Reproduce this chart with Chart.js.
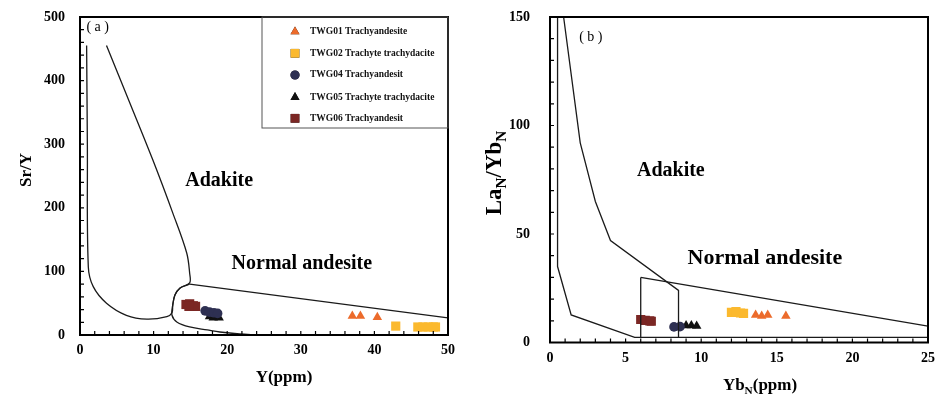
<!DOCTYPE html>
<html>
<head>
<meta charset="utf-8">
<script src="https://cdn.jsdelivr.net/npm/chart.js@4.4.1/dist/chart.umd.min.js"></script>
<style>
  body { margin: 0; background: #fff; }
  #wrap { position: relative; width: 937px; height: 396px; }
  .box { position: absolute; top: 0; height: 396px; }
</style>
</head>
<body>
<div id="wrap">
  <div class="box" style="left:0;width:468px"><canvas id="chartA"></canvas></div>
  <div class="box" style="left:468px;width:469px"><canvas id="chartB"></canvas></div>
</div>
<script>
const serif = '"Liberation Serif", "Times New Roman", serif';

// series (same order in both panels)
const seriesNames = ["TWG01 Trachyandesite", "TWG02 Trachyte trachydacite", "TWG04 Trachyandesit",
                     "TWG05 Trachyte trachydacite", "TWG06 Trachyandesit"];
const seriesColors = ["#EC6B2B", "#FBB92E", "#2E3052", "#111111", "#7B2724"];
const seriesShapes = ["triangle", "rect", "circle", "triangle", "rect"];

// (a) Sr/Y vs Y(ppm)
const aTWG01 = [[37.0, 30], [38.1, 30], [40.4, 28]];
const aTWG02 = [[42.9, 14], [45.9, 12.6], [46.6, 12.6], [47.3, 12.6], [48.0, 12.6], [48.3, 12.6]];
const aTWG04 = [[17.0, 38], [17.6, 36], [18.2, 35], [18.7, 34]];
const aTWG05 = [[17.6, 29], [18.1, 27], [18.6, 30], [18.9, 27]];
const aTWG06 = [[14.4, 48], [14.9, 49], [15.4, 46], [15.7, 45], [14.8, 45]];
const aAdakite = [[0.9, 455], [1.0, 300], [1.13, 107], [1.8, 76], [3.6, 50], [6.3, 31], [9.1, 25],
                  [11.8, 29], [12.5, 35], [12.6, 47], [12.9, 63], [13.6, 74], [14.9, 82], [14.9, 97],
                  [14.5, 129], [12.6, 192], [9.9, 275], [6.8, 364], [3.6, 455]];
const aAndesiteTop = [[14.9, 80], [50, 27]];
const aAndesiteLow = [[14.9, 80], [13.6, 74], [12.9, 63], [12.6, 47], [12.5, 31], [13.2, 20],
                      [14.9, 12.6], [17.3, 7.9], [19.0, 4.7], [21.7, 1.6], [24, 0.3]];
const aTicksX = [0, 10, 20, 30, 40, 50];
const aTicksY = [0, 100, 200, 300, 400, 500];

// (b) LaN/YbN vs YbN(ppm)
const bTWG01 = [[13.6, 12.7], [14.0, 12.2], [14.4, 12.7], [15.6, 12.2]];
const bTWG02 = [[12.0, 13.9], [12.3, 14.2], [12.6, 13.6], [12.8, 13.4]];
const bTWG04 = [[8.2, 7.2], [8.6, 7.3]];
const bTWG05 = [[9.0, 7.8], [9.35, 7.8], [9.7, 7.6]];
const bTWG06 = [[6.0, 10.6], [6.3, 10.2], [6.6, 10.0], [6.7, 9.8]];
const bAdakiteLeft = [[0.5, 150], [0.5, 35], [1.4, 12.7], [5.6, 2.4], [25, 2.4]];
const bAdakiteRight = [[0.9, 150], [2.0, 92], [3.0, 65], [4.0, 47], [8.5, 24], [8.5, 2.4]];
const bBoxLeft = [[6.0, 2.4], [6.0, 30]];
const bAndesiteTop = [[6.0, 30], [25, 7.5]];
const bTicksX = [0, 5, 10, 15, 20, 25];
const bTicksY = [0, 50, 100, 150];

const pts = arr => arr.map(p => ({ x: p[0], y: p[1] }));

function markerSets(groups) {
  return groups.map((g, i) => ({
    label: seriesNames[i],
    data: pts(g),
    pointStyle: seriesShapes[i],
    pointRadius: seriesShapes[i] === "rect" ? 6.5 : (seriesShapes[i] === "circle" ? 4.8 : 5.5),
    backgroundColor: seriesColors[i],
    borderColor: seriesColors[i],
    borderWidth: 0,
    showLine: false
  }));
}

function lineSet(arr, tension) {
  return {
    label: "", field: true, data: pts(arr), showLine: true, fill: false,
    borderColor: "#1a1a1a", borderWidth: 1.3, pointRadius: 0, tension: tension
  };
}

function drawRich(ctx, parts, x, y, size, angle) {
  ctx.save();
  ctx.translate(x, y);
  ctx.rotate(angle);
  ctx.textBaseline = "middle";
  ctx.textAlign = "left";
  ctx.fillStyle = "#000";
  let w = 0;
  parts.forEach(p => {
    ctx.font = "bold " + (p.sub ? size * 0.66 : size) + "px " + serif;
    p.w = ctx.measureText(p.t).width;
    w += p.w;
  });
  let cx = -w / 2;
  parts.forEach(p => {
    ctx.font = "bold " + (p.sub ? size * 0.66 : size) + "px " + serif;
    ctx.fillText(p.t, cx, p.sub ? size * 0.3 : 0);
    cx += p.w;
  });
  ctx.restore();
}

function framePlugin(cfg) {
  return {
    id: "frame",
    afterDraw(chart) {
      const ctx = chart.ctx, a = chart.chartArea;
      const xs = chart.scales.x, ys = chart.scales.y;
      ctx.save();
      ctx.strokeStyle = "#000";
      ctx.lineWidth = 2;
      ctx.strokeRect(a.left, a.top, a.right - a.left, a.bottom - a.top);
      ctx.lineWidth = 1.2;
      ctx.beginPath();
      for (let v = xs.min; v <= xs.max + 1e-9; v += cfg.minorX) {
        const px = xs.getPixelForValue(v);
        ctx.moveTo(px, a.bottom);
        ctx.lineTo(px, a.bottom - 4);
      }
      for (let v = ys.min; v <= ys.max + 1e-9; v += cfg.minorY) {
        const py = ys.getPixelForValue(v);
        ctx.moveTo(a.left, py);
        ctx.lineTo(a.left + 4, py);
      }
      ctx.stroke();

      // panel tag and field names
      ctx.fillStyle = "#000";
      ctx.textAlign = "center";
      ctx.textBaseline = "middle";
      ctx.font = "14px " + serif;
      ctx.fillText(cfg.tag.t, xs.getPixelForValue(cfg.tag.x), ys.getPixelForValue(cfg.tag.y));
      ctx.textAlign = "left";
      cfg.fields.forEach(f => {
        ctx.font = "bold " + f.size + "px " + serif;
        ctx.fillText(f.t, xs.getPixelForValue(f.x), ys.getPixelForValue(f.y));
      });

      // axis titles
      drawRich(ctx, cfg.titleY.parts, cfg.titleY.x, cfg.titleY.y, cfg.titleY.size, -Math.PI / 2);
      drawRich(ctx, cfg.titleX.parts, cfg.titleX.x, cfg.titleX.y, cfg.titleX.size, 0);

      // legend
      if (cfg.legend) {
        const L = cfg.legend;
        ctx.lineWidth = 1;
        ctx.strokeStyle = "#555";
        ctx.strokeRect(L.left, L.top, L.right - L.left, L.bottom - L.top);
        chart.data.datasets.filter(d => !d.field).forEach((d, i) => {
          const y = L.rows[i];
          Chart.helpers.drawPoint(ctx, {
            pointStyle: d.pointStyle, radius: d.pointRadius * 0.95, borderWidth: 0, rotation: 0
          }, L.mx, y);
          ctx.fillStyle = d.backgroundColor;
          ctx.fill();
          ctx.fillStyle = "#111";
          ctx.font = "bold 9.5px " + serif;
          ctx.textAlign = "left";
          ctx.textBaseline = "middle";
          ctx.fillText(d.label, L.tx, y);
        });
      }
      ctx.restore();
    }
  };
}

function makeChart(id, groups, lines, xr, yr, tickX, tickY, box, cfg) {
  return new Chart(document.getElementById(id), {
    type: "scatter",
    data: { datasets: lines.concat(markerSets(groups)) },
    options: {
      responsive: true,
      maintainAspectRatio: false,
      animation: false,
      layout: { padding: { top: box.top, right: box.right, left: 0, bottom: 0 } },
      plugins: { legend: { display: false }, tooltip: { enabled: false } },
      scales: {
        x: {
          type: "linear", min: xr[0], max: xr[1],
          afterBuildTicks: s => { s.ticks = tickX.map(v => ({ value: v })); },
          afterFit: s => { s.height = box.xh; s.paddingLeft = 0; s.paddingRight = 0; },
          grid: { display: false, drawTicks: false },
          border: { display: false },
          ticks: { color: "#000", padding: 7, font: { family: serif, size: 14, weight: "bold" } }
        },
        y: {
          type: "linear", min: yr[0], max: yr[1],
          afterBuildTicks: s => { s.ticks = tickY.map(v => ({ value: v })); },
          afterFit: s => { s.width = box.yw; s.paddingTop = 0; s.paddingBottom = 0; },
          grid: { display: false, drawTicks: false },
          border: { display: false },
          ticks: { color: "#000", padding: box.ypad, font: { family: serif, size: 14, weight: "bold" } }
        }
      }
    },
    plugins: [framePlugin(cfg)]
  });
}

makeChart("chartA",
  [aTWG01, aTWG02, aTWG04, aTWG05, aTWG06],
  [lineSet(aAdakite, 0.35), lineSet(aAndesiteTop, 0), lineSet(aAndesiteLow, 0.35)],
  [0, 50], [0, 500], aTicksX, aTicksY,
  { top: 17, right: 20, xh: 61, yw: 80, ypad: 15 },
  {
    minorX: 2, minorY: 20,
    tag: { t: "( a )", x: 2.4, y: 484 },
    fields: [{ t: "Adakite", x: 14.3, y: 243, size: 20 },
             { t: "Normal andesite", x: 20.6, y: 111.5, size: 20 }],
    titleY: { parts: [{ t: "Sr/Y" }], x: 27, y: 170, size: 17 },
    titleX: { parts: [{ t: "Y(ppm)" }], x: 284, y: 378, size: 17 },
    legend: { left: 262, top: 17, right: 448, bottom: 128, mx: 295, tx: 310,
              rows: [31.7, 53.3, 75, 97.3, 118.3] }
  });

makeChart("chartB",
  [bTWG01, bTWG02, bTWG04, bTWG05, bTWG06],
  [lineSet(bAdakiteLeft, 0), lineSet(bAdakiteRight, 0), lineSet(bBoxLeft, 0), lineSet(bAndesiteTop, 0)],
  [0, 25], [0, 150], bTicksX, bTicksY,
  { top: 17, right: 9, xh: 53.5, yw: 82, ypad: 20 },
  {
    minorX: 1, minorY: 10,
    tag: { t: "( b )", x: 2.7, y: 140.6 },
    fields: [{ t: "Adakite", x: 5.75, y: 79, size: 20 },
             { t: "Normal andesite", x: 9.1, y: 38.9, size: 22 }],
    titleY: { parts: [{ t: "La" }, { t: "N", sub: true }, { t: "/Yb" }, { t: "N", sub: true }],
              x: 27, y: 173, size: 23 },
    titleX: { parts: [{ t: "Yb" }, { t: "N", sub: true }, { t: "(ppm)" }], x: 292, y: 386, size: 17 }
  });
</script>
</body>
</html>
